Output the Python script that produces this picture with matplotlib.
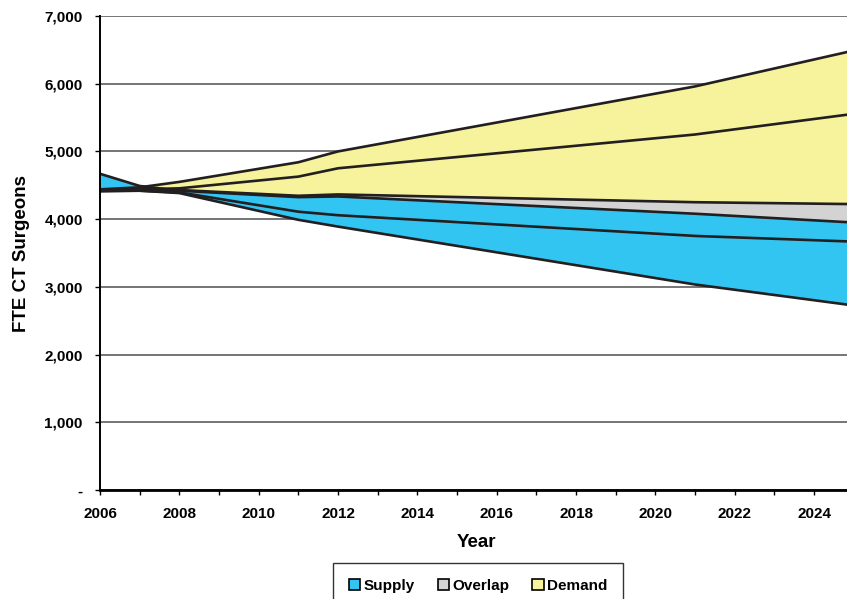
import matplotlib
matplotlib.use("Agg")
import matplotlib.pyplot as plt
from matplotlib.patches import Patch
from matplotlib.ticker import FixedLocator, MultipleLocator, FuncFormatter

plt.rcParams['font.family'] = ['Liberation Sans', 'DejaVu Sans']
plt.rcParams['font.weight'] = 'bold'

# Projection years and FTE cardiothoracic surgeon ranges
years = [2006, 2007, 2008, 2011, 2012, 2021, 2025]
supply_low = [4410, 4420, 4385, 3990, 3890, 3035, 2725]
supply_mid = [4420, 4420, 4395, 4110, 4058, 3752, 3668]
supply_high = [4670, 4490, 4420, 4325, 4335, 4080, 3950]
demand_low = [4425, 4420, 4430, 4345, 4365, 4250, 4222]
demand_mid = [4432, 4440, 4455, 4628, 4751, 5250, 5555]
demand_high = [4440, 4470, 4550, 4840, 5000, 5960, 6490]

legend_labels = ["Supply", "Overlap", "Demand"]
colors = ["#33C5F2", "#D3D3D3", "#F7F39C"]
edge = "#231F20"

fig = plt.figure(figsize=(8.47, 5.99), dpi=100)
ax = fig.add_axes([100 / 847, 1 - 490 / 599, 753.7 / 847, 474 / 599])

ax.fill_between(years, supply_low, supply_high, color=colors[0], lw=0, zorder=2)
ax.fill_between(years, supply_high, demand_low,
                where=[d >= s for d, s in zip(demand_low, supply_high)],
                interpolate=True, color=colors[1], lw=0, zorder=3)
ax.fill_between(years, demand_low, demand_high, color=colors[2], lw=0, zorder=4)

for series in (supply_low, supply_mid, supply_high, demand_low, demand_mid, demand_high):
    ax.plot(years, series, color=edge, lw=1.9, zorder=5, solid_joinstyle='round')

ax.set_xlim(2006, 2025)
ax.set_ylim(0, 7000)

ax.yaxis.set_major_locator(MultipleLocator(1000))
ax.yaxis.set_major_formatter(FuncFormatter(lambda v, p: "-" if v == 0 else f"{int(v):,}"))
ax.xaxis.set_major_locator(FixedLocator(list(range(2006, 2025, 2))))
ax.xaxis.set_minor_locator(MultipleLocator(1))

ax.grid(axis='y', color='#5E5E5E', lw=1.2, zorder=1)
ax.set_axisbelow(True)

for side in ('top', 'right'):
    ax.spines[side].set_visible(False)
ax.spines['left'].set_linewidth(1.4)
ax.spines['bottom'].set_linewidth(2.0)
ax.spines['left'].set_zorder(6)
ax.spines['bottom'].set_zorder(6)

ax.tick_params(axis='y', direction='out', length=3.5, width=1, pad=9, labelsize=11)
ax.tick_params(axis='x', which='both', direction='out', length=3.6, width=1, pad=9, labelsize=11)

ax.set_xlabel("Year", fontsize=13.5, fontweight='bold', labelpad=9)
ax.set_ylabel("FTE CT Surgeons", fontsize=13.5, fontweight='bold', labelpad=10)

handles = [Patch(facecolor=c, edgecolor='black', lw=1.2) for c in colors]
leg = fig.legend(handles, legend_labels, loc='upper center',
                 bbox_to_anchor=(478 / 847, 1 - 563 / 599), ncol=3,
                 frameon=True, fancybox=False, edgecolor='black',
                 fontsize=11, handlelength=0.75, handleheight=0.75,
                 handletextpad=0.2, columnspacing=1.5, borderpad=1.05,
                 borderaxespad=0)
leg.get_frame().set_linewidth(1.0)
for t in leg.get_texts():
    t.set_fontweight('bold')

fig.savefig("out.png", dpi=100)
